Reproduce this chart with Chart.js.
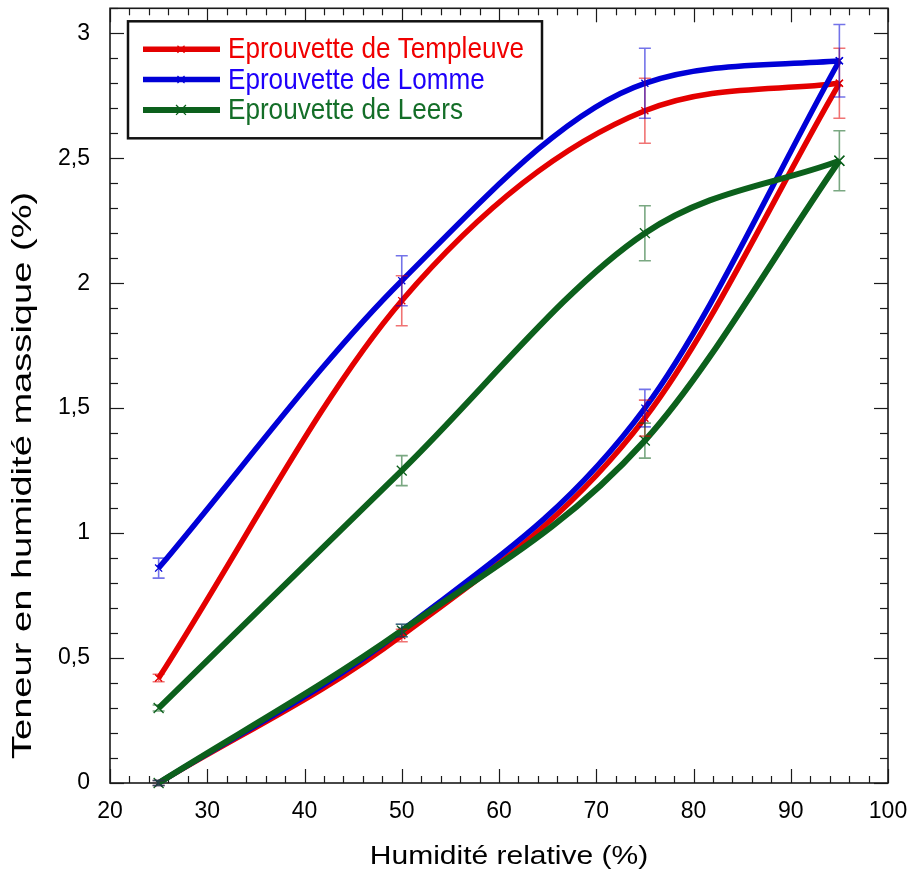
<!DOCTYPE html>
<html><head><meta charset="utf-8">
<script src="https://cdn.jsdelivr.net/npm/chart.js@4.4.1/dist/chart.umd.min.js"></script>
<style>html,body{margin:0;padding:0;background:#fff}canvas{display:block}</style>
</head><body>
<canvas id="c" width="911" height="875"></canvas>
<script>
// ---------- data ----------
const humidity = [25, 50, 75, 95];
const seriesNames = ['Eprouvette de Templeuve', 'Eprouvette de Lomme', 'Eprouvette de Leers'];

const templeuveSorption      = [0, 0.59, 1.46, 2.80];
const templeuveSorptionErr   = [0.01, 0.025, 0.072, null];
const templeuveDesorption    = [0.42, 1.93, 2.69, 2.80];
const templeuveDesorptionErr = [0.015, 0.10, 0.13, 0.14];

const lommeSorption          = [0, 0.61, 1.50, 2.89];
const lommeSorptionErr       = [0.01, 0.025, 0.075, null];
const lommeDesorption        = [0.86, 2.01, 2.80, 2.89];
const lommeDesorptionErr     = [0.04, 0.10, 0.14, 0.145];

const leersSorption          = [0, 0.61, 1.37, 2.49];
const leersSorptionErr       = [0.01, 0.025, 0.07, null];
const leersDesorption        = [0.30, 1.25, 2.20, 2.49];
const leersDesorptionErr     = [0.012, 0.06, 0.11, 0.12];

const xTicks = [20, 30, 40, 50, 60, 70, 80, 90, 100];
const yTicks = [0, 0.5, 1, 1.5, 2, 2.5, 3];
const yTickLabels = ['0', '0,5', '1', '1,5', '2', '2,5', '3'];
const xTitle = 'Humidité relative (%)';
const yTitle = 'Teneur en humidité massique (%)';

// ---------- styles ----------
const colors = ['rgb(228,0,0)', 'rgb(0,0,215)', 'rgb(12,96,28)'];
const errColors = ['rgba(228,0,0,0.55)', 'rgba(0,0,215,0.55)', 'rgba(12,96,28,0.55)'];
const textColors = ['rgb(240,0,0)', 'rgb(30,0,250)', 'rgb(20,110,40)'];
const markerRadius = [5, 5, 7];
const lineWidths = [5.5, 5.5, 6];

function pts(vals) { return humidity.map((h, i) => ({x: h, y: vals[i]})); }

function mkDs(si, vals, errs, ord) {
  return {
    label: seriesNames[si],
    data: pts(vals),
    errors: errs,
    seriesIndex: si,
    borderColor: colors[si],
    backgroundColor: colors[si],
    pointBorderColor: colors[si],
    pointStyle: 'crossRot',
    pointRadius: markerRadius[si],
    pointBorderWidth: 1.3,
    borderWidth: lineWidths[si],
    cubicInterpolationMode: 'monotone',
    fill: false,
    clip: false,
    order: ord
  };
}

const datasets = [
  mkDs(0, templeuveSorption, templeuveSorptionErr, 3),
  mkDs(0, templeuveDesorption, templeuveDesorptionErr, 3),
  mkDs(1, lommeSorption, lommeSorptionErr, 2),
  mkDs(1, lommeDesorption, lommeDesorptionErr, 2),
  mkDs(2, leersSorption, leersSorptionErr, 1),
  mkDs(2, leersDesorption, leersDesorptionErr, 1)
];

// ---------- plugins ----------
const frameTicks = {
  id: 'frameTicks',
  beforeDatasetsDraw(chart) {
    const {ctx, chartArea: a, scales: {x, y}} = chart;
    ctx.save();
    ctx.strokeStyle = '#1a1a1a';
    ctx.lineWidth = 1.2;
    const seg = (x1, y1, x2, y2) => { ctx.beginPath(); ctx.moveTo(x1, y1); ctx.lineTo(x2, y2); ctx.stroke(); };
    const nx = Math.round((x.max - x.min) / 2);
    for (let i = 0; i <= nx; i++) {
      const v = x.min + i * 2;
      const px = Math.round(x.getPixelForValue(v)) + 0.5;
      const major = Math.abs(v / 10 - Math.round(v / 10)) < 1e-6;
      const len = major ? 14 : 7;
      seg(px, a.bottom, px, a.bottom - len);
      seg(px, a.top, px, a.top + len);
    }
    const ny = Math.round((y.max - y.min) / 0.1);
    for (let i = 0; i <= ny; i++) {
      const v = y.min + i * 0.1;
      const py = Math.round(y.getPixelForValue(v)) + 0.5;
      const major = Math.abs(v / 0.5 - Math.round(v / 0.5)) < 1e-6;
      const len = major ? 14 : 8;
      seg(a.left, py, a.left + len, py);
      seg(a.right, py, a.right - len, py);
    }
    ctx.lineWidth = 1.6;
    ctx.strokeRect(a.left, a.top, a.right - a.left, a.bottom - a.top);
    ctx.restore();
  }
};

const errorBars = {
  id: 'errorBars',
  afterDatasetsDraw(chart) {
    const {ctx, scales: {x, y}} = chart;
    ctx.save();
    ctx.lineWidth = 1.6;
    chart.data.datasets.forEach((ds) => {
      ds.errors.forEach((e, i) => {
        if (e == null) return;
        const p = ds.data[i];
        const px = x.getPixelForValue(p.x);
        const t = y.getPixelForValue(p.y + e);
        const b = y.getPixelForValue(p.y - e);
        ctx.strokeStyle = errColors[ds.seriesIndex];
        ctx.beginPath();
        ctx.moveTo(px, t); ctx.lineTo(px, b);
        ctx.moveTo(px - 6, t); ctx.lineTo(px + 6, t);
        ctx.moveTo(px - 6, b); ctx.lineTo(px + 6, b);
        ctx.stroke();
      });
    });
    ctx.restore();
  }
};

const boxLegend = {
  id: 'boxLegend',
  afterDraw(chart) {
    const {ctx, chartArea: a} = chart;
    const bx = a.left + 18, by = a.top + 13, bw = 414, bh = 117;
    ctx.save();
    ctx.fillStyle = '#fff';
    ctx.fillRect(bx, by, bw, bh);
    ctx.strokeStyle = '#111';
    ctx.lineWidth = 2.5;
    ctx.strokeRect(bx, by, bw, bh);
    seriesNames.forEach((name, i) => {
      const cy = by + 28 + i * 30.3;
      ctx.strokeStyle = colors[i];
      ctx.lineWidth = lineWidths[i];
      ctx.beginPath(); ctx.moveTo(bx + 15, cy); ctx.lineTo(bx + 92, cy); ctx.stroke();
      ctx.lineWidth = 1.3;
      Chart.helpers.drawPoint(ctx, {pointStyle: 'crossRot', radius: i === 2 ? 7 : 5, borderWidth: 1.3}, bx + 53, cy);
      ctx.save();
      ctx.translate(bx + 100, cy);
      ctx.scale(0.9, 1);
      ctx.font = '29px "Liberation Sans", Arial, sans-serif';
      ctx.fillStyle = textColors[i];
      ctx.textBaseline = 'middle';
      ctx.textAlign = 'left';
      ctx.fillText(name, 0, 1);
      ctx.restore();
    });
    ctx.restore();
  }
};

// custom title drawing (stretched text like the reference)
const stretchedTitles = {
  id: 'stretchedTitles',
  afterLayout(chart) {
    const {x, y} = chart.scales;
    x.drawTitle = function () {
      const ctx = this.ctx, a = this.chart.chartArea;
      ctx.save();
      ctx.translate((a.left + a.right) / 2 + 10, this.bottom - 18);
      ctx.scale(1.2, 1);
      ctx.font = '25px "Liberation Sans", Arial, sans-serif';
      ctx.fillStyle = '#000';
      ctx.textAlign = 'center';
      ctx.textBaseline = 'middle';
      ctx.fillText(this.options.title.text, 0, 0);
      ctx.restore();
    };
    y.drawTitle = function () {
      const ctx = this.ctx, a = this.chart.chartArea;
      ctx.save();
      ctx.translate(this.left + 23, a.bottom - 0.397 * (a.bottom - a.top));
      ctx.rotate(-Math.PI / 2);
      ctx.scale(1.36, 1);
      ctx.font = '28px "Liberation Sans", Arial, sans-serif';
      ctx.fillStyle = '#000';
      ctx.textAlign = 'center';
      ctx.textBaseline = 'middle';
      ctx.fillText(this.options.title.text, 0, 0);
      ctx.restore();
    };
  }
};

Chart.defaults.color = '#000';
Chart.defaults.font.family = '"Liberation Sans", Arial, sans-serif';

new Chart(document.getElementById('c'), {
  type: 'line',
  data: {datasets},
  options: {
    responsive: false,
    animation: false,
    layout: {padding: {top: 7, right: 23, left: 0, bottom: 0}},
    plugins: {legend: {display: false}, tooltip: {enabled: false}},
    scales: {
      x: {
        type: 'linear',
        min: 20, max: 100,
        afterBuildTicks: (s) => { s.ticks = xTicks.map(v => ({value: v})); },
        afterFit: (s) => { s.height = 92; },
        grid: {display: false, drawTicks: true, tickLength: 15},
        border: {display: false},
        ticks: {font: {size: 23}, padding: 0, maxRotation: 0, autoSkip: false},
        title: {display: true, text: xTitle, font: {size: 25}}
      },
      y: {
        type: 'linear',
        min: 0, max: 3.1,
        afterBuildTicks: (s) => { s.ticks = yTicks.map(v => ({value: v})); },
        afterFit: (s) => { s.width = 110; },
        grid: {display: false, drawTicks: true, tickLength: 20},
        border: {display: false},
        ticks: {
          font: {size: 23, lineHeight: 0.5}, padding: 0, autoSkip: false,
          callback: (v) => { const i = yTicks.indexOf(v); return i >= 0 ? yTickLabels[i] : ''; }
        },
        title: {display: true, text: yTitle, font: {size: 28}}
      }
    }
  },
  plugins: [frameTicks, errorBars, boxLegend, stretchedTitles]
});
</script>
</body></html>
